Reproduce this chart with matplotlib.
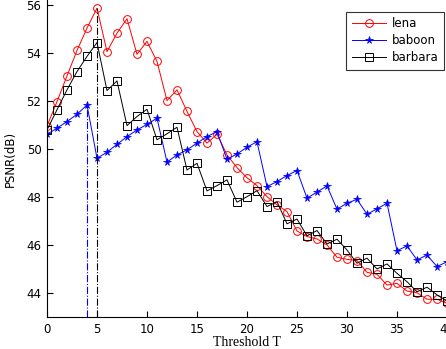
import numpy as np
import matplotlib
matplotlib.use("Agg")
import matplotlib.pyplot as plt

# ==================================================
# DATA
# ==================================================
T = np.arange(0, 41)

lena = [50.95, 51.97, 53.04, 54.10, 55.03, 55.86, 54.05, 54.82, 55.42, 53.94,
        54.48, 53.64, 52.01, 52.46, 51.56, 50.72, 50.24, 50.61, 49.75, 49.22,
        48.80, 48.47, 48.01, 47.67, 47.39, 46.58, 46.35, 46.25, 46.00, 45.49,
        45.40, 45.35, 44.86, 44.78, 44.33, 44.40, 44.08, 44.01, 43.74, 43.74,
        43.57]

baboon = [50.61, 50.86, 51.14, 51.44, 51.83, 49.61, 49.86, 50.19, 50.51, 50.79,
          51.02, 51.28, 49.45, 49.75, 49.96, 50.24, 50.51, 50.72, 49.57, 49.79,
          50.07, 50.30, 48.43, 48.64, 48.89, 49.10, 47.95, 48.20, 48.46, 47.49,
          47.74, 47.90, 47.28, 47.50, 47.74, 45.76, 45.96, 45.38, 45.58, 45.10,
          45.30]

barbara = [50.79, 51.63, 52.46, 53.22, 53.85, 54.43, 52.43, 52.83, 50.97, 51.35,
           51.65, 50.38, 50.63, 50.90, 49.12, 49.40, 48.25, 48.47, 48.71, 47.78,
           48.01, 48.26, 47.60, 47.80, 46.88, 47.08, 46.38, 46.60, 46.04, 46.24,
           45.79, 45.24, 45.45, 45.00, 45.21, 44.82, 44.47, 44.05, 44.24, 43.92,
           43.67]

# best thresholds marked with vertical dash-dot lines
best_baboon = 4
best_lena = 5

YMIN, YMAX = 43, 56.2

# ==================================================
# PLOT
# ==================================================
fig = plt.figure(figsize=(4.46, 3.49), dpi=100)
ax = fig.add_axes([47 / 446, 32 / 349, 400 / 446, 317 / 349])

ax.plot(T, lena, color='red', lw=0.7, marker='o', ms=5.6, mfc='none',
        mew=0.7, label='lena')
ax.plot(T, baboon, color='blue', lw=0.7, marker='*', ms=5.5,
        mew=0.5, label='baboon')
ax.plot(T, barbara, color='black', lw=0.7, marker='s', ms=5.6, mfc='none',
        mew=0.7, label='barbara')

ax.plot([best_baboon, best_baboon], [YMIN, baboon[best_baboon]], color='blue',
        lw=0.8, ls='-.')
ax.plot([best_lena, best_lena], [YMIN, lena[best_lena]], color='black',
        lw=0.8, ls='-.')

ax.set_xlim(0, 40)
ax.set_ylim(YMIN, YMAX)
ax.set_xticks(np.arange(0, 41, 5))
ax.set_yticks(np.arange(44, 57, 2))
ax.tick_params(direction='in', labelsize=8.5, length=4, width=0.8, pad=4)
for side in ['top', 'right']:
    ax.spines[side].set_visible(False)

ax.set_xlabel('Threshold T', family='Liberation Serif', fontsize=10,
              labelpad=0)
ax.set_ylabel('PSNR(dB)', fontsize=8.5, labelpad=7)

leg = ax.legend(loc='upper right', bbox_to_anchor=(0.9925, 0.963), fontsize=8.5,
                fancybox=False, edgecolor='black', handlelength=2.9,
                handletextpad=0.5, borderpad=0.45, labelspacing=0.35,
                borderaxespad=0)
leg.get_frame().set_linewidth(0.8)

plt.savefig('out.png', dpi=100)
plt.close()
